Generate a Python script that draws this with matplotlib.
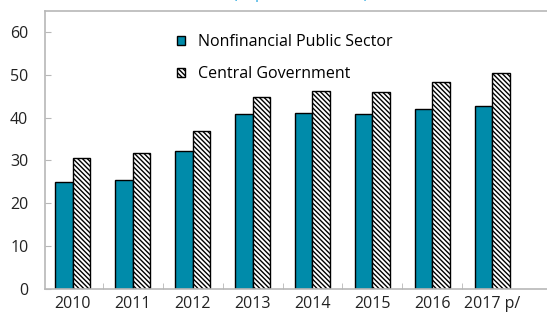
import numpy as np
import matplotlib
matplotlib.use("Agg")
import matplotlib.pyplot as plt

plt.rcParams['font.family'] = ['Open Sans', 'DejaVu Sans']
plt.rcParams['hatch.linewidth'] = 1.0
plt.rcParams['hatch.color'] = '#606060'

years = ['2010', '2011', '2012', '2013', '2014', '2015', '2016', '2017 p/']
nfps = [25.0, 25.4, 32.3, 40.8, 41.1, 40.8, 42.0, 42.8]
central_gov = [30.6, 31.8, 36.9, 44.9, 46.2, 45.9, 48.3, 50.4]

fig = plt.figure(figsize=(5.47, 3.22), dpi=100)
ax = fig.add_axes([45 / 547, 33 / 322, 1 - 45 / 547, (289 - 10.5) / 322])

x = np.arange(len(years))
w = 0.29
ax.bar(x - w / 2, nfps, w, color='#008BAA', edgecolor='black', linewidth=1.0,
       label='Nonfinancial Public Sector')
ax.bar(x + w / 2, central_gov, w, color='white', edgecolor='black', linewidth=1.0,
       hatch='\\' * 7, label='Central Government')

ax.set_xlim(-0.46, 7.91)
ax.set_ylim(0, 65)
ax.set_yticks(range(0, 61, 10))
ax.set_xticks(x)
ax.set_xticklabels(years)
ax.set_xticks(np.arange(0.5, 7.5, 1), minor=True)

for side in ['left', 'top', 'bottom']:
    ax.spines[side].set_color('#b8b8b8')
    ax.spines[side].set_linewidth(1.2)
ax.spines['right'].set_visible(False)

ax.tick_params(axis='y', direction='in', length=4, color='#b8b8b8', pad=12,
               labelsize=11.5, labelcolor='#222222')
ax.tick_params(axis='x', which='major', length=0, pad=5, labelsize=11.5,
               labelcolor='#222222')
ax.tick_params(axis='x', which='minor', direction='in', length=4, color='#b8b8b8')

leg = ax.legend(loc='upper left', bbox_to_anchor=(0.263, 0.914), frameon=False,
                fontsize=11.5, handlelength=0.5, handleheight=0.5,
                handletextpad=0.8, labelspacing=1.0, borderpad=0,
                borderaxespad=0)

# title sits above the top edge, only its descenders show
fig.text(0.55, 0.994, '(In percent of GDP)', color='#29A8E0', fontsize=11,
         ha='center', va='bottom')

fig.savefig('out.png', dpi=100)
